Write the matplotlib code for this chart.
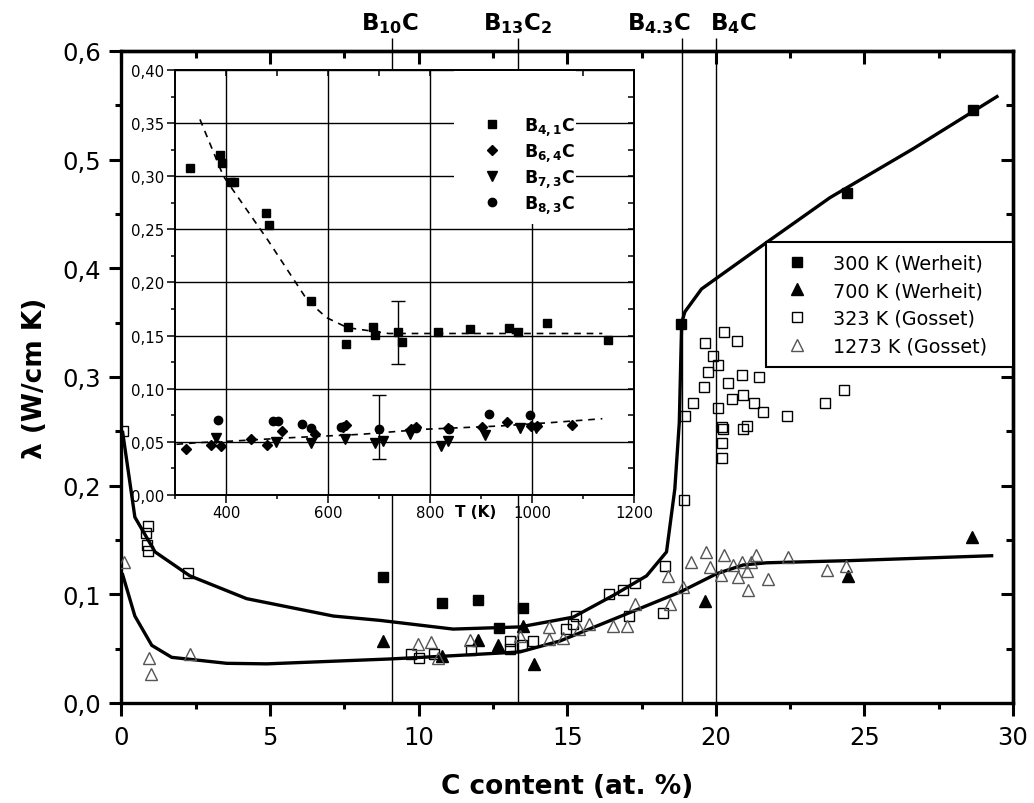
import matplotlib
matplotlib.use('Agg')
import matplotlib.pyplot as plt
from matplotlib.ticker import MultipleLocator, FuncFormatter
from matplotlib.patches import Rectangle

plt.rcParams['font.family'] = ['DejaVu Sans']
plt.rcParams['mathtext.fontset'] = 'dejavusans'

# ---- main plot data (C content in at.%, lambda in W/cm K) ----
w300_x = [8.79, 10.77, 11.99, 12.70, 13.50, 18.83, 24.41, 28.65]
w300_y = [0.116, 0.092, 0.095, 0.069, 0.087, 0.349, 0.469, 0.546]

w700_x = [8.79, 10.79, 12.01, 12.68, 13.52, 13.89, 19.63, 24.44, 28.63]
w700_y = [0.057, 0.043, 0.058, 0.053, 0.071, 0.036, 0.094, 0.117, 0.153]

g323_x = [0.04, 0.88, 0.82, 0.85, 0.90, 2.25, 9.73, 10.02, 10.52, 11.75,
          13.07, 13.07, 13.47, 13.86, 14.96, 15.20, 15.29, 16.41, 16.86, 17.28,
          18.29, 18.23, 17.09, 18.93, 18.96, 19.22, 19.60, 19.74, 19.91, 20.06,
          19.63, 20.27, 20.72, 20.08, 20.20, 20.25, 20.20, 20.20, 20.42, 20.55,
          20.88, 20.90, 20.90, 21.04, 21.28, 21.46, 21.59, 22.38, 23.69, 24.31]
g323_y = [0.250, 0.163, 0.156, 0.145, 0.140, 0.120, 0.045, 0.041, 0.045, 0.049,
          0.057, 0.050, 0.053, 0.057, 0.068, 0.073, 0.080, 0.100, 0.104, 0.110,
          0.126, 0.083, 0.080, 0.187, 0.264, 0.276, 0.291, 0.305, 0.319, 0.311,
          0.331, 0.341, 0.333, 0.271, 0.254, 0.252, 0.239, 0.225, 0.294, 0.280,
          0.302, 0.283, 0.252, 0.255, 0.276, 0.300, 0.268, 0.264, 0.276, 0.288]

g1273_x = [0.08, 0.94, 0.99, 2.30, 9.97, 10.41, 10.66, 11.73, 13.41, 14.39,
           14.39, 14.85, 15.40, 15.74, 16.55, 17.00, 17.28, 18.40, 18.46, 18.88,
           19.15, 19.66, 19.80, 20.16, 20.27, 20.59, 20.75, 20.87, 21.07, 21.04,
           21.20, 21.34, 21.74, 22.44, 23.75, 24.38]
g1273_y = [0.130, 0.041, 0.027, 0.045, 0.054, 0.056, 0.041, 0.058, 0.062, 0.070,
           0.059, 0.060, 0.068, 0.073, 0.071, 0.071, 0.091, 0.117, 0.091, 0.107,
           0.130, 0.139, 0.125, 0.118, 0.136, 0.127, 0.116, 0.130, 0.104, 0.121,
           0.130, 0.136, 0.114, 0.134, 0.122, 0.126]

# guide curves
up_x = [0.04, 0.45, 1.13, 2.30, 4.21, 7.13, 8.70, 11.16, 13.41, 15.20,
        16.55, 17.67, 18.34, 18.62, 18.77, 18.85, 18.96, 19.52, 21.72, 23.84,
        26.64, 29.46]
up_y = [0.249, 0.171, 0.139, 0.117, 0.096, 0.080, 0.076, 0.068, 0.070, 0.079,
        0.099, 0.117, 0.139, 0.197, 0.258, 0.350, 0.360, 0.381, 0.424, 0.465,
        0.510, 0.558]
lo_x = [0.04, 0.45, 1.02, 1.69, 3.54, 4.89, 9.03, 11.15, 13.41, 14.75,
        16.55, 18.79, 20.03, 20.92, 21.71, 24.51, 29.28]
lo_y = [0.118, 0.080, 0.053, 0.042, 0.0365, 0.036, 0.0405, 0.0435, 0.047, 0.057,
        0.077, 0.102, 0.119, 0.127, 0.129, 0.131, 0.1355]

# compositions marked at the top
comp_x = [100 / 11, 200 / 15, 100 / 5.3, 20.0]
comp_lab = [r'$\mathbf{B_{10}C}$', r'$\mathbf{B_{13}C_2}$',
            r'$\mathbf{B_{4.3}C}$', r'$\mathbf{B_4C}$']
comp_lab_x = [9.03, 13.34, 18.09, 20.58]

# ---- inset data (T in K, lambda in W/cm K) ----
b41_T = [330, 388, 393, 410, 415, 478, 484, 566, 640, 636, 689, 692, 738, 745,
         815, 878, 955, 972, 1030, 1150]
b41_l = [0.308, 0.320, 0.312, 0.295, 0.295, 0.265, 0.254, 0.183, 0.158, 0.142,
         0.158, 0.151, 0.153, 0.144, 0.153, 0.156, 0.157, 0.153, 0.162, 0.146]
b64_T = [322, 371, 390, 449, 480, 510, 574, 630, 635, 762, 772, 835, 903, 952,
         999, 1010, 1079]
b64_l = [0.043, 0.047, 0.046, 0.053, 0.047, 0.060, 0.057, 0.064, 0.066, 0.062,
         0.064, 0.063, 0.064, 0.069, 0.065, 0.065, 0.066]
b73_T = [380, 498, 566, 633, 692, 707, 760, 822, 835, 908, 977, 1007]
b73_l = [0.054, 0.050, 0.049, 0.053, 0.049, 0.051, 0.057, 0.046, 0.051, 0.056,
         0.063, 0.063]
b83_T = [385, 493, 503, 550, 566, 626, 700, 773, 837, 915, 996]
b83_l = [0.071, 0.070, 0.070, 0.067, 0.063, 0.064, 0.062, 0.063, 0.062, 0.076,
         0.075]

err_T = [738, 700]
err_l = [0.153, 0.0637]
err_d = [0.030, 0.030]

fit_hi_T = [349, 395, 482, 560, 597, 638, 719, 1138]
fit_hi_l = [0.3535, 0.300, 0.240, 0.183, 0.167, 0.1575, 0.152, 0.152]
fit_lo_T = [303, 347, 415, 530, 665, 787, 935, 1037, 1138]
fit_lo_l = [0.0477, 0.0493, 0.0508, 0.054, 0.0571, 0.0618, 0.0649, 0.0681, 0.0718]


def comma_fmt(nd):
    return FuncFormatter(lambda v, p: ('%.*f' % (nd, v)).replace('.', ','))


fig = plt.figure(figsize=(10.34, 8.04), dpi=100)
ax = fig.add_axes([0.1175, 0.1244, 0.8622, 0.811])

ax.plot(up_x, up_y, '-', color='k', lw=2.4, zorder=2)
ax.plot(lo_x, lo_y, '-', color='k', lw=2.4, zorder=2)
ax.plot(w300_x, w300_y, 's', color='k', ms=7, ls='none', zorder=3, label='300 K (Werheit)')
ax.plot(w700_x, w700_y, '^', color='k', ms=9, ls='none', zorder=3, label='700 K (Werheit)')
ax.plot(g323_x, g323_y, 's', mfc='none', mec='k', mew=1.0, ms=7, ls='none', zorder=3,
        label='323 K (Gosset)')
ax.plot(g1273_x, g1273_y, '^', mfc='none', mec='#555555', mew=1.0, ms=9, ls='none', zorder=3,
        label='1273 K (Gosset)')

ax.vlines(comp_x, 0, 0.612, colors='k', lw=1.0, clip_on=False, zorder=1)
for xl, lab in zip(comp_lab_x, comp_lab):
    ax.text(xl, 1.033, lab, transform=ax.get_xaxis_transform(), ha='center',
            va='baseline', fontsize=16.5)

ax.set_xlim(0, 30)
ax.set_ylim(0, 0.6)
ax.xaxis.set_major_locator(MultipleLocator(5))
ax.xaxis.set_minor_locator(MultipleLocator(2.5))
ax.yaxis.set_major_locator(MultipleLocator(0.1))
ax.yaxis.set_minor_locator(MultipleLocator(0.05))
ax.yaxis.set_major_formatter(comma_fmt(1))
ax.tick_params(which='both', direction='out', width=2.2, labelsize=17.5)
ax.tick_params(which='major', length=9)
ax.tick_params(which='minor', length=4.5)
ax.tick_params(axis='x', pad=7)
ax.tick_params(axis='y', pad=6)
for s in ax.spines.values():
    s.set_linewidth(2.4)

top = ax.secondary_xaxis('top')
top.xaxis.set_major_locator(MultipleLocator(5))
top.xaxis.set_minor_locator(MultipleLocator(2.5))
top.tick_params(which='both', direction='in', labeltop=False, width=2.2)
top.tick_params(which='major', length=9)
top.tick_params(which='minor', length=5)
right = ax.secondary_yaxis('right')
right.yaxis.set_major_locator(MultipleLocator(0.1))
right.yaxis.set_minor_locator(MultipleLocator(0.05))
right.tick_params(which='both', direction='in', labelright=False, width=2.2)
right.tick_params(which='major', length=9)
right.tick_params(which='minor', length=5)
for sa in (top, right):
    for s in sa.spines.values():
        s.set_linewidth(2.4)

ax.set_xlabel('C content (at. %)', fontsize=19, fontweight='bold', labelpad=17)
ax.set_ylabel('λ (W/cm K)', fontsize=19, fontweight='bold', labelpad=10)

leg = ax.legend(loc='upper left', bbox_to_anchor=(0.723, 0.518, 0.277, 0.189),
                mode='expand', borderaxespad=0, fontsize=13.8, frameon=True,
                fancybox=False, edgecolor='k', framealpha=1, borderpad=0.6,
                handlelength=2.0, handletextpad=0.9, labelspacing=0.45)
leg.get_frame().set_linewidth(1.5)

# ---- inset ----
ins = fig.add_axes([0.1692, 0.3831, 0.4439, 0.5286])
ins.set_axisbelow(True)
ins.grid(True, which='major', color='k', lw=1.0)
ins.add_patch(Rectangle((0.609, 0.6375), 0.265, 0.36, transform=ins.transAxes,
                        facecolor='white', edgecolor='none', zorder=1))
ins.plot(fit_hi_T, fit_hi_l, '--', color='k', lw=1.2, dashes=(4, 3.5), zorder=2)
ins.plot(fit_lo_T, fit_lo_l, '--', color='k', lw=1.2, dashes=(4, 3.5), zorder=2)
ins.errorbar(err_T, err_l, yerr=err_d, fmt='none', ecolor='k', elinewidth=1.0,
             capsize=5, capthick=1.0, zorder=3)
ins.plot(b41_T, b41_l, 's', color='k', ms=6, ls='none', zorder=4, label=r'$\mathbf{B_{4,1}C}$')
ins.plot(b64_T, b64_l, 'D', color='k', ms=5.5, ls='none', zorder=4, label=r'$\mathbf{B_{6,4}C}$')
ins.plot(b73_T, b73_l, 'v', color='k', ms=7, ls='none', zorder=4, label=r'$\mathbf{B_{7,3}C}$')
ins.plot(b83_T, b83_l, 'o', color='k', ms=6, ls='none', zorder=4, label=r'$\mathbf{B_{8,3}C}$')

ins.set_xlim(300, 1200)
ins.set_ylim(0, 0.40)
ins.xaxis.set_major_locator(MultipleLocator(200))
ins.xaxis.set_minor_locator(MultipleLocator(100))
ins.yaxis.set_major_locator(MultipleLocator(0.05))
ins.yaxis.set_minor_locator(MultipleLocator(0.025))
ins.yaxis.set_major_formatter(comma_fmt(2))
ins.tick_params(which='both', direction='out', width=1.1, labelsize=10.7, pad=2)
ins.tick_params(which='major', length=5.5)
ins.tick_params(which='minor', length=3)
for s in ins.spines.values():
    s.set_linewidth(1.4)
itop = ins.secondary_xaxis('top')
itop.xaxis.set_major_locator(MultipleLocator(200))
itop.xaxis.set_minor_locator(MultipleLocator(100))
itop.tick_params(which='both', direction='in', labeltop=False, width=1.1, length=4)
iright = ins.secondary_yaxis('right')
iright.yaxis.set_major_locator(MultipleLocator(0.05))
iright.yaxis.set_minor_locator(MultipleLocator(0.025))
iright.tick_params(which='both', direction='in', labelright=False, width=1.1, length=4)
for sa in (itop, iright):
    for s in sa.spines.values():
        s.set_linewidth(1.4)

ins.text(0.654, -0.04, 'T (K)', transform=ins.transAxes, ha='center', va='center',
         fontsize=11, fontweight='bold')
ins.legend(loc='upper left', bbox_to_anchor=(0.609, 0.915), frameon=False,
           borderaxespad=0, fontsize=12.5, borderpad=0.5, handlelength=3.3,
           handletextpad=0.2, labelspacing=0.25)

fig.savefig('out.png', dpi=100)
